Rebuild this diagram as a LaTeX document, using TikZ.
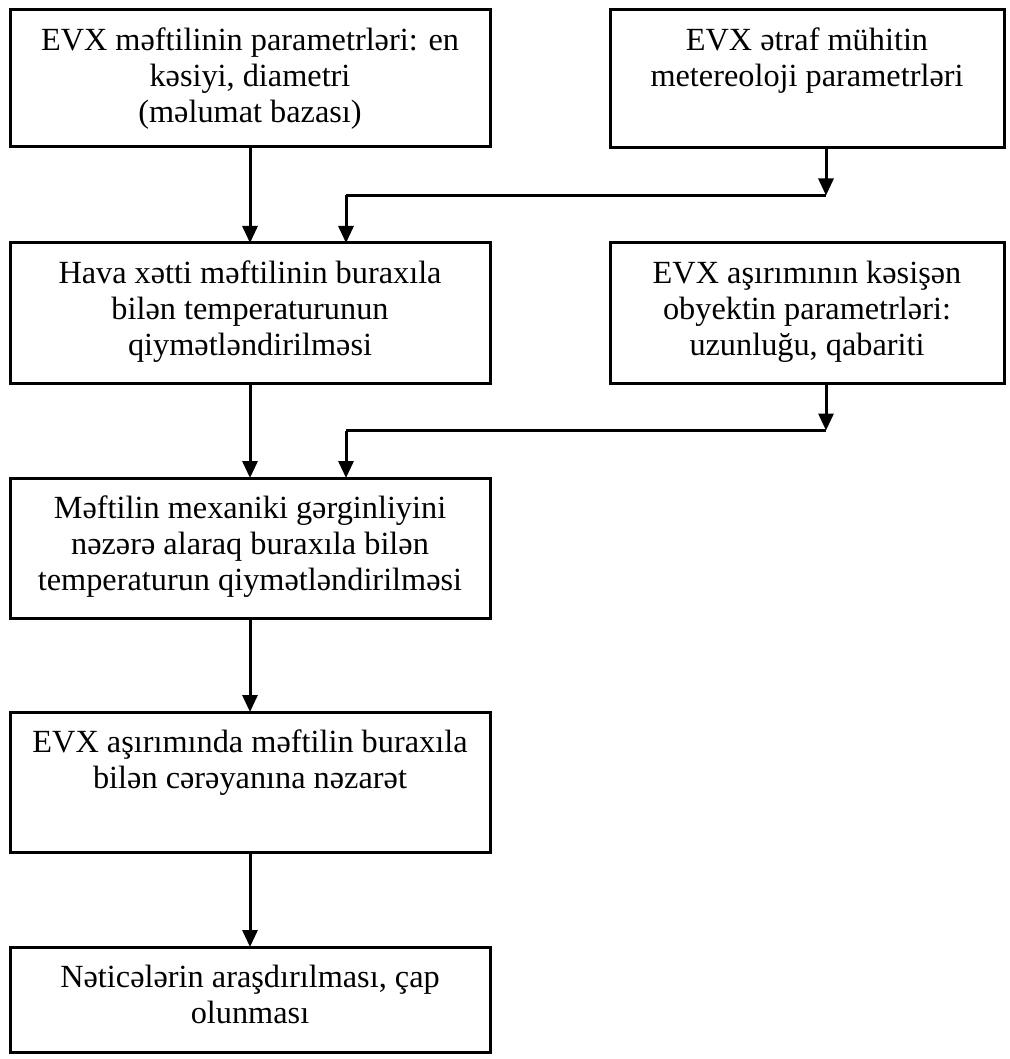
\documentclass[tikz,border=0pt]{standalone}
\usepackage{fontspec}
\setmainfont{Liberation Serif}
\usetikzlibrary{arrows.meta,calc}
\begin{document}
\begin{tikzpicture}[x=1pt,y=1pt,
  box/.style={draw=black,line width=3pt,rectangle,inner sep=0pt,outer sep=0pt,anchor=north west},
  txt/.style={anchor=north,align=center,inner sep=0pt,font=\fontsize{32.3}{36}\selectfont},
  arr/.style={line width=3pt,-{Triangle[width=15pt,length=17pt]}},
  ln/.style={line width=3pt}]
\useasboundingbox (0,0) rectangle (1009,-1059);
% boxes
\node[box,minimum width=480pt,minimum height=137pt] (b1) at (10,-10) {};
\node[box,minimum width=394pt,minimum height=138pt] (b2) at (610,-10) {};
\node[box,minimum width=480pt,minimum height=140pt] (b3) at (10,-243) {};
\node[box,minimum width=394pt,minimum height=140pt] (b4) at (610,-243) {};
\node[box,minimum width=480pt,minimum height=140pt] (b5) at (10,-478) {};
\node[box,minimum width=480pt,minimum height=140pt] (b6) at (10,-712) {};
\node[box,minimum width=480pt,minimum height=105pt] (b7) at (10,-947) {};
% texts
\node[txt] (t1) at ([yshift=-15.5pt]b1.north) {\strut EVX məftilinin parametrləri: en\\kəsiyi, diametri\\(məlumat bazası)};
\node[txt] (t2) at ([yshift=-15.5pt]b2.north) {\strut EVX ətraf mühitin\\metereoloji parametrləri};
\node[txt] (t3) at ([yshift=-15.5pt]b3.north) {\strut Hava xətti məftilinin buraxıla\\bilən temperaturunun\\qiymətləndirilməsi};
\node[txt] (t4) at ([yshift=-15.5pt]b4.north) {\strut EVX aşırımının kəsişən\\obyektin parametrləri:\\uzunluğu, qabariti};
\node[txt] (t5) at ([yshift=-15.5pt]b5.north) {\strut Məftilin mexaniki gərginliyini\\nəzərə alaraq buraxıla bilən\\temperaturun qiymətləndirilməsi};
\node[txt] (t6) at ([yshift=-15.5pt]b6.north) {\strut EVX aşırımında məftilin buraxıla\\bilən cərəyanına nəzarət};
\node[txt] (t7) at ([yshift=-15.5pt]b7.north) {\strut Nəticələrin araşdırılması, çap\\olunması};
% junction coordinates
\coordinate (j1) at (826,-195.5);
\coordinate (m1) at (346,-195.5);
\coordinate (j2) at (826,-430.5);
\coordinate (m2) at (346,-430.5);
% connectors
\draw[arr] (b1.south) -- (b3.north);
\draw[arr] (b2.south -| j1) -- (j1);
\draw[ln] (j1) -- (m1);
\draw[arr] (m1) -- (m1 |- b3.north);
\draw[arr] (b3.south) -- (b5.north);
\draw[arr] (b4.south -| j2) -- (j2);
\draw[ln] (j2) -- (m2);
\draw[arr] (m2) -- (m2 |- b5.north);
\draw[arr] (b5.south) -- (b6.north);
\draw[arr] (b6.south) -- (b7.north);
\end{tikzpicture}
\end{document}
